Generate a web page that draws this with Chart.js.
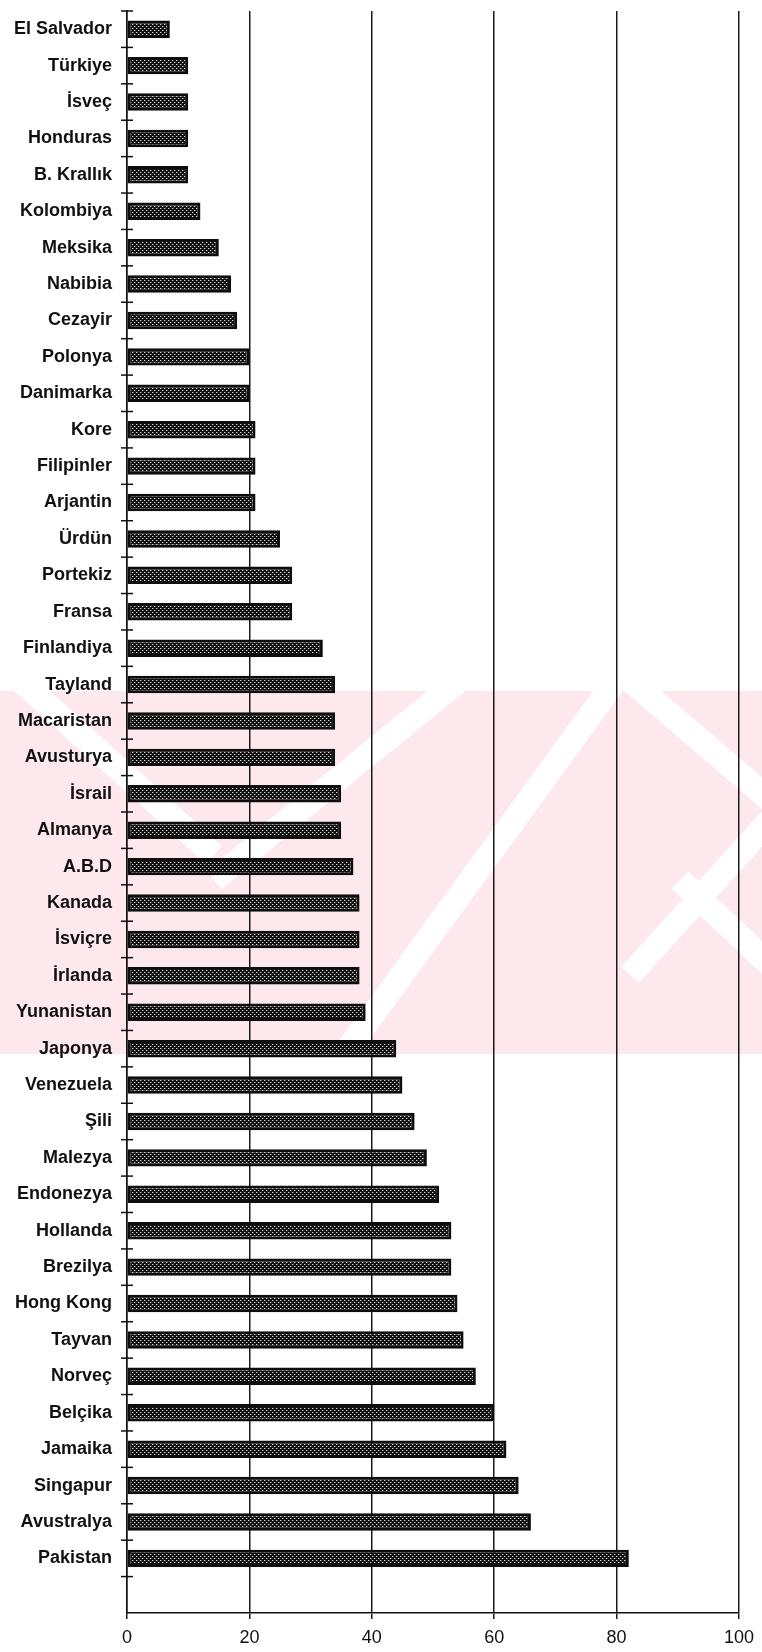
<!DOCTYPE html>
<html>
<head>
<meta charset="utf-8">
<script src="https://cdn.jsdelivr.net/npm/chart.js@4/dist/chart.umd.min.js"></script>
<style>
  body { margin: 0; background: #fff; }
  #wrap { width: 762px; height: 1652px; position: relative; }
</style>
</head>
<body>
<div id="wrap"><canvas id="grafik"></canvas></div>
<script>
// ülkeler (yukarıdan aşağıya), son boş satır eksenin altındaki boşluk
var ulkeler = ['El Salvador','Türkiye','İsveç','Honduras','B. Krallık','Kolombiya','Meksika','Nabibia','Cezayir','Polonya',
  'Danimarka','Kore','Filipinler','Arjantin','Ürdün','Portekiz','Fransa','Finlandiya','Tayland','Macaristan',
  'Avusturya','İsrail','Almanya','A.B.D','Kanada','İsviçre','İrlanda','Yunanistan','Japonya','Venezuela',
  'Şili','Malezya','Endonezya','Hollanda','Brezilya','Hong Kong','Tayvan','Norveç','Belçika','Jamaika',
  'Singapur','Avustralya','Pakistan',''];
var degerler = [7,10,10,10,10,12,15,17,18,20,
  20,21,21,21,25,27,27,32,34,34,
  34,35,35,37,38,38,38,39,44,45,
  47,49,51,53,53,54,55,57,60,62,
  64,66,82];
var xTikler = [0,20,40,60,80,100];

// noktalı dolgu deseni
function desen(){
  var c = document.createElement('canvas');
  c.width = 4; c.height = 4;
  var g = c.getContext('2d');
  g.fillStyle = '#111';
  g.fillRect(0,0,4,4);
  g.fillStyle = '#d8d8d8';
  g.fillRect(0,0,1,1);
  g.fillRect(2,2,1,1);
  g.fillStyle = '#555';
  g.fillRect(1,0,1,1);
  g.fillRect(3,2,1,1);
  return g.createPattern(c,'repeat');
}

// arkadaki pembe filigran
var filigran = {
  id: 'filigran',
  beforeDraw: function(chart){
    var ctx = chart.ctx;
    var w = chart.width;
    ctx.save();
    ctx.beginPath();
    ctx.rect(0, 691, w, 363);
    ctx.clip();
    ctx.fillStyle = 'rgb(253,233,237)';
    ctx.fillRect(0, 691, w, 363);
    ctx.strokeStyle = '#fff';
    ctx.lineWidth = 24;
    var serit = [
      [20,680, 214,855],
      [460,680, 214,880],
      [616,680, 340,1060],
      [630,680, 770,800],
      [770,820, 630,975],
      [680,880, 770,965]
    ];
    serit.forEach(function(s){
      ctx.beginPath();
      ctx.moveTo(s[0],s[1]);
      ctx.lineTo(s[2],s[3]);
      ctx.stroke();
    });
    ctx.restore();
  }
};

// y ekseni üzerindeki kısa çizgiler (ekseni kesen)
var yCizgi = {
  id: 'yCizgi',
  afterDraw: function(chart){
    var s = chart.scales.y;
    var x0 = chart.scales.x.getPixelForValue(0);
    var ctx = chart.ctx;
    ctx.save();
    ctx.strokeStyle = '#111';
    ctx.lineWidth = 1.5;
    for (var i = 0; i < ulkeler.length; i++) {
      var y = s.getPixelForValue(i - 0.5);
      ctx.beginPath();
      ctx.moveTo(x0 - 6, y);
      ctx.lineTo(x0 + 6, y);
      ctx.stroke();
    }
    ctx.restore();
  }
};

var grafik = document.getElementById('grafik');
new Chart(grafik, {
  type: 'bar',
  data: {
    labels: ulkeler,
    datasets: [{
      data: degerler,
      backgroundColor: desen(),
      borderColor: '#0d0d0d',
      borderWidth: 3,
      borderSkipped: false,
      barPercentage: 0.48,
      categoryPercentage: 1
    }]
  },
  options: {
    indexAxis: 'y',
    responsive: true,
    maintainAspectRatio: false,
    animation: false,
    layout: { padding: { top: 11, right: 18, left: 0, bottom: 0 } },
    plugins: { legend: { display: false }, tooltip: { enabled: false } },
    scales: {
      x: {
        min: 0, max: 100,
        afterBuildTicks: function(ax){ ax.ticks = xTikler.map(function(v){ return {value: v}; }); },
        afterFit: function(ax){ ax.height = 39; },
        grid: { color: '#1a1a1a', lineWidth: 1.5, tickLength: 6, drawTicks: true },
        border: { display: true, color: '#111', width: 1.5 },
        ticks: { color: '#111', padding: 8, font: { family: "'Liberation Sans', Arial", size: 18 } }
      },
      y: {
        afterFit: function(ax){ ax.width = 127; ax.paddingTop = 0; ax.paddingBottom = 0; },
        grid: { display: false, drawTicks: false },
        border: { display: true, color: '#111', width: 1.5 },
        ticks: { color: '#111', padding: 15, autoSkip: false, font: { family: "'Liberation Sans', Arial", size: 18, weight: 'bold' } }
      }
    }
  },
  plugins: [filigran, yCizgi]
});
</script>
</body>
</html>
